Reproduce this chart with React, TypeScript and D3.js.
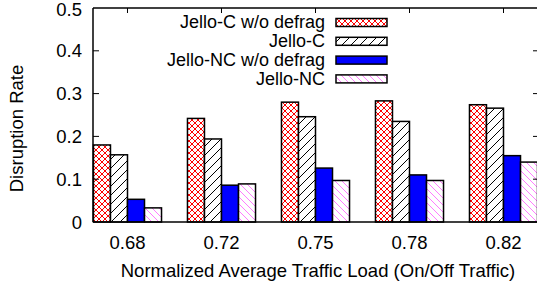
import React from "react";
import * as d3 from "d3";

const categories = ["0.68", "0.72", "0.75", "0.78", "0.82"];
const seriesNames = ["Jello-C w/o defrag", "Jello-C", "Jello-NC w/o defrag", "Jello-NC"];
const jelloCNoDefrag = [0.18, 0.242, 0.28, 0.283, 0.274];
const jelloC = [0.157, 0.194, 0.246, 0.235, 0.266];
const jelloNCNoDefrag = [0.053, 0.086, 0.126, 0.11, 0.155];
const jelloNC = [0.033, 0.089, 0.097, 0.097, 0.14];
const yTicks = [0, 0.1, 0.2, 0.3, 0.4, 0.5];

const series = [jelloCNoDefrag, jelloC, jelloNCNoDefrag, jelloNC];
const fills = ["url(#pRed)", "url(#pBlack)", "#0000ff", "url(#pPink)"];

const W = 537;
const H = 283;
const left = 93;
const right = 538;
const frameRight = 540;
const top = 8;
const bottom = 222;
const font = "'Liberation Sans', Arial, Helvetica, sans-serif";
const fs = 18.5;
const legFs = 18;

export default function App() {
  const x = d3.scaleLinear().domain([-0.367, 4.367]).range([left, right]);
  const y = d3.scaleLinear().domain([0, 0.5]).range([bottom, top]);
  const bw = 0.181;

  return (
    <svg
      width={W}
      height={H}
      style={{ position: "absolute", left: 0, top: 0, background: "#fff" }}
      fontFamily={font}
    >
      <defs>
        <pattern id="pRed" patternUnits="userSpaceOnUse" width="6" height="6">
          <rect width="6" height="6" fill="#fff" />
          <path d="M0,0 L6,6 M6,0 L0,6" stroke="#ff0000" strokeWidth="1" />
        </pattern>
        <pattern id="pBlack" patternUnits="userSpaceOnUse" width="9" height="9">
          <rect width="9" height="9" fill="#fff" />
          <path d="M0,9 L9,0 M-1,1 L1,-1 M8,10 L10,8" stroke="#000" strokeWidth="1" />
        </pattern>
        <pattern id="pPink" patternUnits="userSpaceOnUse" width="7" height="7">
          <rect width="7" height="7" fill="#fff" />
          <path d="M0,0 L7,7 M-1,6 L1,8 M6,-1 L8,1" stroke="#ff44ff" strokeWidth="0.7" />
        </pattern>
      </defs>

      {/* bars */}
      <g>
        {categories.map((c, i) =>
          series.map((s, k) => {
            const x0 = x(i - 2 * bw + k * bw);
            const x1 = x(i - 2 * bw + (k + 1) * bw);
            return (
              <rect
                key={c + k}
                x={x0}
                y={y(s[i])}
                width={x1 - x0}
                height={y(0) - y(s[i])}
                fill={fills[k]}
                stroke="#000"
                strokeWidth={1.5}
              />
            );
          })
        )}
      </g>

      {/* axes frame */}
      <line x1={left} x2={left} y1={top} y2={bottom} stroke="#000" strokeWidth={1.5} />
      <line x1={left} x2={frameRight} y1={top} y2={top} stroke="#000" strokeWidth={1.5} />
      <line x1={left} x2={frameRight} y1={bottom} y2={bottom} stroke="#000" strokeWidth={1.5} />

      {/* y ticks */}
      {yTicks.map((t) => (
        <g key={t}>
          {t > 0 && t < 0.5 && (
            <>
              <line x1={left} x2={left + 6} y1={y(t)} y2={y(t)} stroke="#000" strokeWidth={1} />
              <line x1={frameRight - 7} x2={frameRight} y1={y(t)} y2={y(t)} stroke="#000" strokeWidth={1} />
            </>
          )}
          <text
            x={82}
            y={t === 0.5 ? y(t) + 1.5 : y(t)}
            dy="0.36em"
            textAnchor="end"
            fontSize={fs}
            fill="#000"
          >
            {t === 0 ? "0" : t.toFixed(1)}
          </text>
        </g>
      ))}

      {/* x ticks */}
      {categories.map((c, i) => (
        <g key={c}>
          <line x1={x(i)} x2={x(i)} y1={top} y2={top + 5} stroke="#000" strokeWidth={1} />
          <text x={x(i)} y={248.5} textAnchor="middle" fontSize={fs} fill="#000">
            {c}
          </text>
        </g>
      ))}

      {/* axis titles */}
      <text x={318} y={276.5} textAnchor="middle" fontSize={fs} fill="#000">
        Normalized Average Traffic Load (On/Off Traffic)
      </text>
      <text
        transform={`translate(22.5,128.5) rotate(-90)`}
        textAnchor="middle"
        fontSize={fs}
        fill="#000"
      >
        Disruption Rate
      </text>

      {/* legend */}
      {seriesNames.map((n, k) => {
        const cy = 22.5 + k * 18.8;
        return (
          <g key={n}>
            <rect x={323} y={cy - 9} width={70} height={18} fill="#fff" />
            <text x={325} y={cy} dy="0.33em" textAnchor="end" fontSize={legFs} fill="#000">
              {n}
            </text>
            <rect
              x={336}
              y={cy - 4}
              width={51}
              height={8}
              fill={fills[k]}
              stroke="#000"
              strokeWidth={1.5}
            />
          </g>
        );
      })}
    </svg>
  );
}
